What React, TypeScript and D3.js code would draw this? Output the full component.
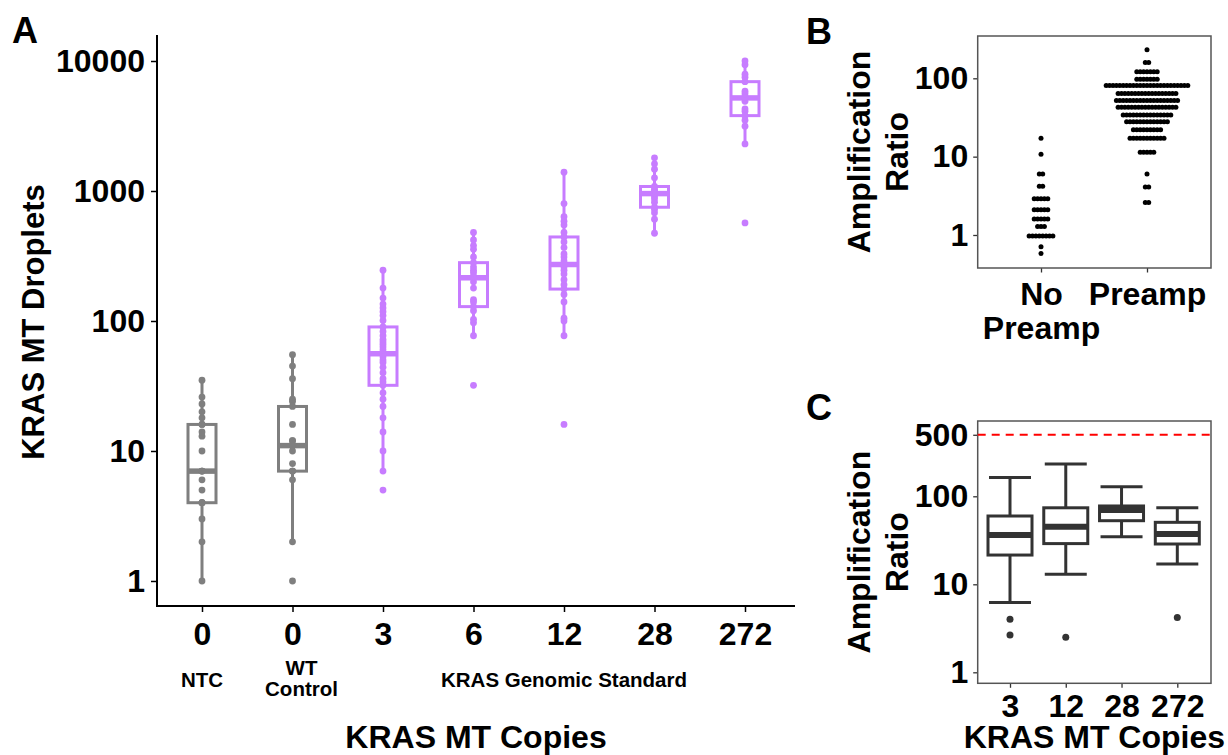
import React, { useEffect, useRef } from "react";
import * as d3 from "d3";

// Panel A: droplet counts per sample group
const groupKeys = ["NTC", "WT", "3", "6", "12", "28", "272"];
const copyLabels = ["0", "0", "3", "6", "12", "28", "272"];
const ntcDroplets = [1, 2, 3, 4, 4, 4, 5, 6, 7, 7, 7, 10, 13, 14, 16, 16, 18, 20, 23, 26, 35];
const wtDroplets = [1, 2, 6, 7, 7, 7, 8, 10, 11, 11, 11, 11, 12, 12, 16, 22, 24, 25, 36, 45, 55];
const copies3Droplets = [5, 7, 10, 14, 18, 22, 25, 28, 32, 34, 36, 40, 44, 48, 50, 53, 56, 60, 63, 66, 69, 72, 77, 83, 90, 101, 110, 118, 126, 135, 150, 179, 246];
const copies6Droplets = [32, 77, 97, 103, 120, 129, 140, 146, 179, 200, 215, 220, 235, 246, 260, 281, 311, 356, 380, 420, 480];
const copies12Droplets = [16, 77, 100, 105, 140, 160, 176, 190, 208, 230, 246, 260, 272, 290, 311, 328, 367, 406, 443, 480, 548, 586, 635, 800, 1396];
const copies28Droplets = [473, 606, 679, 720, 750, 820, 870, 906, 955, 980, 1000, 1033, 1083, 1263, 1473, 1618, 1800];
const copies272Droplets = [568, 2303, 3155, 3500, 3800, 4115, 4285, 4900, 5200, 5309, 5600, 5864, 6936, 7500, 7925, 9355, 10000];
const dropletSets = [ntcDroplets, wtDroplets, copies3Droplets, copies6Droplets, copies12Droplets, copies28Droplets, copies272Droplets];
const yTicksA = [1, 10, 100, 1000, 10000];

// Panel B: amplification ratio dot plot (bin value, dots in bin)
const bCategories = ["No Preamp", "Preamp"];
const noPreampBins = [17.2, 10.7, 6.0, 4.2, 2.9, 2.1, 1.6, 1.28, 0.97, 0.71, 0.58];
const noPreampCounts = [1, 1, 2, 2, 5, 5, 5, 3, 8, 1, 1];
const preampBins = [231, 159, 121, 97, 81, 64, 52, 42.7, 34, 27.8, 22, 17.2, 11.4, 6.0, 4.1, 2.6];
const preampCounts = [1, 2, 7, 7, 25, 18, 19, 18, 15, 13, 9, 11, 5, 1, 2, 2];
const yTicksB = [1, 10, 100];

// Panel C: amplification ratio box summaries
const cCategories = ["3", "12", "28", "272"];
const cWhiskerLow = [6.2, 13, 34.7, 17];
const cQ1 = [21.5, 29, 52.8, 28.7];
const cMedian = [36.3, 45, 70, 37.3];
const cQ3 = [59.7, 74, 77.6, 50.6];
const cWhiskerHigh = [163, 233, 128.5, 74.3];
const cOutliers = [[4.0, 2.65], [2.5], [], [4.2]];
const cThreshold = 500;
const yTicksC = [1, 10, 100, 500];

const FONT = "'Liberation Sans', Arial, Helvetica, sans-serif";
const GREY = "#7f7f7f";
const PURPLE = "#C77CFF";
const DARK = "#333333";

function boxStats(values: number[]) {
  const logs = values.map(Math.log10).sort(d3.ascending);
  const q1 = d3.quantile(logs, 0.25)!;
  const med = d3.quantile(logs, 0.5)!;
  const q3 = d3.quantile(logs, 0.75)!;
  const iqr = q3 - q1;
  const lo = d3.min(logs.filter((v) => v >= q1 - 1.5 * iqr))!;
  const hi = d3.max(logs.filter((v) => v <= q3 + 1.5 * iqr))!;
  const p = (v: number) => Math.pow(10, v);
  return { q1: p(q1), med: p(med), q3: p(q3), lo: p(lo), hi: p(hi) };
}

function styleText(sel: any, size: number) {
  sel
    .attr("font-family", FONT)
    .attr("font-size", size)
    .attr("font-weight", "bold")
    .attr("fill", "#000");
}

function drawPanelA(svg: any) {
  const g = svg.append("g");
  const y = d3.scaleLog().domain([0.642, 15850]).range([606, 35]);
  const x = d3.scalePoint<string>().domain(groupKeys).range([202, 745]);

  // axes
  const yAxis = g.append("g").attr("transform", "translate(157,0)")
    .call(d3.axisLeft(y).tickValues(yTicksA).tickFormat(d3.format("d")).tickSize(6).tickPadding(6));
  yAxis.select(".domain").remove();
  yAxis.selectAll("line").attr("stroke", "#000").attr("stroke-width", 1.5);
  styleText(yAxis.selectAll("text"), 32);

  const xAxis = g.append("g").attr("transform", "translate(0,606)")
    .call(d3.axisBottom(x).tickFormat((d: string, i: number) => copyLabels[i]).tickSize(6).tickPadding(10));
  xAxis.select(".domain").remove();
  xAxis.selectAll("line").attr("stroke", "#000").attr("stroke-width", 1.5);
  styleText(xAxis.selectAll("text"), 32);

  g.append("line").attr("x1", 157).attr("x2", 157).attr("y1", 35).attr("y2", 607)
    .attr("stroke", "#000").attr("stroke-width", 2);
  g.append("line").attr("x1", 156).attr("x2", 795).attr("y1", 606).attr("y2", 606)
    .attr("stroke", "#000").attr("stroke-width", 2);

  // boxes + points
  const boxW = 28;
  dropletSets.forEach((vals, i) => {
    const s = boxStats(vals);
    const cx = x(groupKeys[i])!;
    const col = i < 2 ? GREY : PURPLE;
    g.append("line").attr("x1", cx).attr("x2", cx).attr("y1", y(s.lo)).attr("y2", y(s.hi))
      .attr("stroke", col).attr("stroke-width", 3);
    g.append("rect").attr("x", cx - boxW / 2).attr("width", boxW)
      .attr("y", y(s.q3)).attr("height", y(s.q1) - y(s.q3))
      .attr("fill", "#fff").attr("stroke", col).attr("stroke-width", 3);
    g.append("line").attr("x1", cx - boxW / 2).attr("x2", cx + boxW / 2)
      .attr("y1", y(s.med)).attr("y2", y(s.med))
      .attr("stroke", col).attr("stroke-width", 5.5);
    g.selectAll(null).data(vals).enter().append("circle")
      .attr("cx", cx).attr("cy", (d: number) => y(d)).attr("r", 3.4).attr("fill", col);
  });

  // labels
  const t = (txt: string, xx: number, yy: number, size: number, anchor = "middle") => {
    const el = g.append("text").attr("x", xx).attr("y", yy).attr("text-anchor", anchor).text(txt);
    styleText(el, size);
    return el;
  };
  t("A", 12, 43, 36, "start");
  t("NTC", x("NTC")!, 687, 20.5);
  t("WT", x("WT")! + 9, 675, 20.5);
  t("Control", x("WT")! + 9, 696, 20.5);
  t("KRAS Genomic Standard", x("12")!, 687, 20.5);
  t("KRAS MT Copies", 476, 748, 32);
  const yt = g.append("text").attr("transform", "translate(44,322) rotate(-90)")
    .attr("text-anchor", "middle").text("KRAS MT Droplets");
  styleText(yt, 31);
}

function ratioTitle(svg: any, cy: number) {
  ["Amplification", "Ratio"].forEach((line, i) => {
    const el = svg.append("text")
      .attr("transform", `translate(${870 + i * 38},${cy}) rotate(-90)`)
      .attr("text-anchor", "middle").text(line);
    styleText(el, 32);
  });
}

function drawPanelB(svg: any) {
  const g = svg.append("g");
  const left = 977.7, right = 1211, top = 36, bottom = 268;
  const y = d3.scaleLog().domain([0.379, 346.8]).range([bottom, top]);
  const x = d3.scalePoint<string>().domain(bCategories).range([1041, 1147]);

  const yAxis = g.append("g").attr("transform", `translate(${left},0)`)
    .call(d3.axisLeft(y).tickValues(yTicksB).tickFormat(d3.format("d")).tickSize(4.5).tickPadding(5));
  yAxis.select(".domain").remove();
  yAxis.selectAll("line").attr("stroke", DARK).attr("stroke-width", 1.3);
  styleText(yAxis.selectAll("text"), 32);

  const xAxis = g.append("g").attr("transform", `translate(0,${bottom})`)
    .call(d3.axisBottom(x).tickSize(4.5).tickPadding(10));
  xAxis.select(".domain").remove();
  xAxis.selectAll("line").attr("stroke", DARK).attr("stroke-width", 1.3);
  xAxis.selectAll("text").each(function (this: any, d: string) {
    const el = d3.select(this);
    const lines = d === "No Preamp" ? ["No", "Preamp"] : [d];
    el.text(null);
    lines.forEach((l, i) => el.append("tspan").attr("x", 0).attr("dy", i === 0 ? "0.71em" : "1.06em").text(l));
  });
  styleText(xAxis.selectAll("text"), 32);

  g.append("rect").attr("x", left).attr("y", top).attr("width", right - left).attr("height", bottom - top)
    .attr("fill", "none").attr("stroke", "#555").attr("stroke-width", 1.5);

  const spacing = 3.4;
  const stacks = [
    { cat: bCategories[0], bins: noPreampBins, counts: noPreampCounts },
    { cat: bCategories[1], bins: preampBins, counts: preampCounts },
  ];
  stacks.forEach((s) => {
    const cx = x(s.cat)!;
    const dots: { v: number; off: number }[] = [];
    s.bins.forEach((v, i) => {
      const n = s.counts[i];
      for (let j = 0; j < n; j++) dots.push({ v, off: (j - (n - 1) / 2) * spacing });
    });
    g.selectAll(null).data(dots).enter().append("circle")
      .attr("cx", (d: any) => cx + d.off).attr("cy", (d: any) => y(d.v)).attr("r", 2.5).attr("fill", "#000");
  });

  const lab = g.append("text").attr("x", 806).attr("y", 44).text("B");
  styleText(lab, 36);
  ratioTitle(g, (top + bottom) / 2);
}

function drawPanelC(svg: any) {
  const g = svg.append("g");
  const left = 977.7, right = 1211, top = 421, bottom = 683.3;
  const y = d3.scaleLog().domain([0.75, 717]).range([bottom, top]);
  const x = d3.scalePoint<string>().domain(cCategories).range([1010, 1177.3]);

  const yAxis = g.append("g").attr("transform", `translate(${left},0)`)
    .call(d3.axisLeft(y).tickValues(yTicksC).tickFormat(d3.format("d")).tickSize(4.5).tickPadding(5));
  yAxis.select(".domain").remove();
  yAxis.selectAll("line").attr("stroke", DARK).attr("stroke-width", 1.3);
  styleText(yAxis.selectAll("text"), 32);

  const xAxis = g.append("g").attr("transform", `translate(0,${bottom})`)
    .call(d3.axisBottom(x).tickSize(4.5).tickPadding(6));
  xAxis.select(".domain").remove();
  xAxis.selectAll("line").attr("stroke", DARK).attr("stroke-width", 1.3);
  styleText(xAxis.selectAll("text"), 32);

  g.append("rect").attr("x", left).attr("y", top).attr("width", right - left).attr("height", bottom - top)
    .attr("fill", "none").attr("stroke", "#555").attr("stroke-width", 1.5);

  g.append("line").attr("x1", left).attr("x2", right).attr("y1", y(cThreshold)).attr("y2", y(cThreshold))
    .attr("stroke", "#ff0000").attr("stroke-width", 2).attr("stroke-dasharray", "8,6");

  const boxW = 44, capW = 42;
  cCategories.forEach((c, i) => {
    const cx = x(c)!;
    // error bar whiskers
    g.append("line").attr("x1", cx).attr("x2", cx).attr("y1", y(cWhiskerLow[i])).attr("y2", y(cWhiskerHigh[i]))
      .attr("stroke", DARK).attr("stroke-width", 3);
    [cWhiskerLow[i], cWhiskerHigh[i]].forEach((v) => {
      g.append("line").attr("x1", cx - capW / 2).attr("x2", cx + capW / 2).attr("y1", y(v)).attr("y2", y(v))
        .attr("stroke", DARK).attr("stroke-width", 3);
    });
    g.append("rect").attr("x", cx - boxW / 2).attr("width", boxW)
      .attr("y", y(cQ3[i])).attr("height", y(cQ1[i]) - y(cQ3[i]))
      .attr("fill", "#fff").attr("stroke", DARK).attr("stroke-width", 3);
    g.append("line").attr("x1", cx - boxW / 2).attr("x2", cx + boxW / 2).attr("y1", y(cMedian[i])).attr("y2", y(cMedian[i]))
      .attr("stroke", DARK).attr("stroke-width", 6);
    g.selectAll(null).data(cOutliers[i]).enter().append("circle")
      .attr("cx", cx).attr("cy", (d: number) => y(d)).attr("r", 3.5).attr("fill", DARK);
  });

  const lab = g.append("text").attr("x", 806).attr("y", 420).text("C");
  styleText(lab, 36);
  ratioTitle(g, (top + bottom) / 2);
  const xt = g.append("text").attr("x", (left + right) / 2).attr("y", 748).attr("text-anchor", "middle").text("KRAS MT Copies");
  styleText(xt, 32);
}

export default function App() {
  const ref = useRef<SVGSVGElement>(null);

  useEffect(() => {
    const svg = d3.select(ref.current);
    svg.selectAll("*").remove();
    drawPanelA(svg);
    drawPanelB(svg);
    drawPanelC(svg);
  }, []);

  return (
    <svg
      ref={ref}
      width={1228}
      height={755}
      style={{ position: "absolute", left: 0, top: 0, background: "#fff" }}
    />
  );
}
